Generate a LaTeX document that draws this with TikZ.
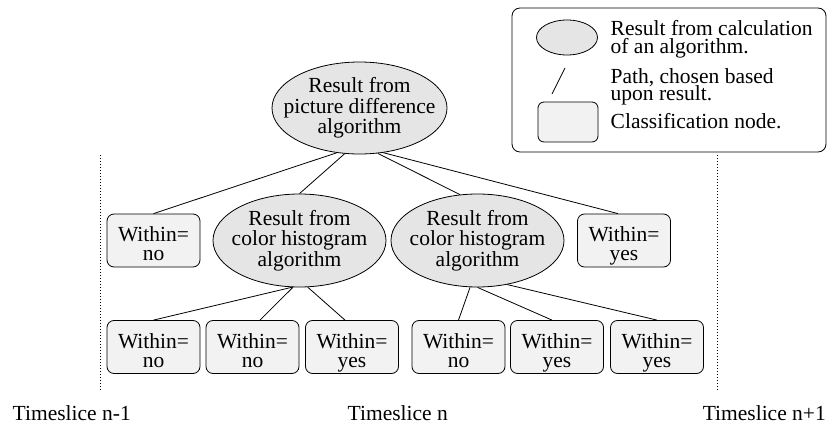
\documentclass[tikz,border=0pt]{standalone}
\usepackage{fontspec}
\setmainfont{Liberation Serif}
\usetikzlibrary{shapes.geometric}
\definecolor{ellgray}{gray}{0.9}
\definecolor{boxgray}{gray}{0.95}
\begin{document}
\begin{tikzpicture}[x=1pt,y=-1pt,
  algo/.style={ellipse, draw, fill=ellgray, minimum width=173pt, minimum height=93pt, inner sep=0pt, line width=0.8pt},
  cls/.style={rectangle, rounded corners=7pt, draw, fill=boxgray, minimum width=93pt, minimum height=53pt, inner sep=0pt, line width=0.8pt},
  elbl/.style={align=center, inner sep=0pt, font=\fontsize{21.5}{20.5}\selectfont},
  blbl/.style={align=center, inner sep=0pt, font=\fontsize{21.5}{19}\selectfont},
  txt/.style={inner sep=0pt, font=\fontsize{21.5}{20.5}\selectfont},
  conn/.style={line width=0.8pt},
  dotline/.style={line width=0.8pt, dash pattern=on 0.8pt off 2.2pt}]
\useasboundingbox (0,0) rectangle (828,423);

% legend
\node[draw, rounded corners=8pt, minimum width=314pt, minimum height=144pt, inner sep=0pt, line width=0.8pt] (legend) at (669,80) {};
\node[ellipse, draw, fill=ellgray, minimum width=61pt, minimum height=35pt, inner sep=0pt, line width=0.8pt] (lell) at (567,37.5) {};
\coordinate (lpa) at (565,68);
\coordinate (lpb) at (552,94);
\draw[conn] (lpa) -- (lpb);
\node[rectangle, rounded corners=6pt, draw, fill=boxgray, minimum width=60pt, minimum height=40pt, inner sep=0pt, line width=0.8pt] (lbox) at (568,122) {};
\node[txt, anchor=base west] (lt1) at (610.5,35) {Result from calculation};
\node[txt, anchor=base west] (lt2) at (610.5,53) {of an algorithm.};
\node[txt, anchor=base west] (lt3) at (610.5,83) {Path, chosen based};
\node[txt, anchor=base west] (lt4) at (610.5,100) {upon result.};
\node[txt, anchor=base west] (lt5) at (610.5,128) {Classification node.};

% dotted timeslice borders
\coordinate (dla) at (100.5,155);
\coordinate (dlb) at (100.5,391);
\coordinate (dra) at (717,155);
\coordinate (drb) at (717,391);
\draw[dotline] (dla) -- (dlb);
\draw[dotline] (dra) -- (drb);

% tree nodes
\node[algo, minimum width=175pt, minimum height=92pt] (m) at (359.5,108) {};
\node[algo] (e2) at (299.5,240.5) {};
\node[algo] (e3) at (477.5,240.5) {};
\node[cls] (b1) at (153.5,240.5) {};
\node[cls] (b2) at (624,240.5) {};
\node[cls] (c1) at (153.5,347) {};
\node[cls] (c2) at (252.5,347) {};
\node[cls] (c3) at (352,347) {};
\node[cls] (c4) at (458.5,347) {};
\node[cls] (c5) at (557,347) {};
\node[cls] (c6) at (657,347) {};

% edges
\draw[conn] (m.243) -- (b1.north);
\draw[conn] (m.252) -- (e2.north);
\draw[conn] (m.292) -- (e3.111);
\draw[conn] (m.298) -- ([xshift=-6pt]b2.north);
\draw[conn] (e2.261) -- (c1.north);
\draw[conn] (e2.262) -- ([xshift=7.5pt]c2.north);
\draw[conn] (e2.280) -- ([xshift=-7pt]c3.north);
\draw[conn] (e3.261) -- (c4.north);
\draw[conn] (e3.270) -- ([xshift=-5pt]c5.north);
\draw[conn] (e3.304) -- (c6.north);

% labels
\node[elbl] (mt) at (m.center) {Result from\\picture difference\\algorithm};
\node[elbl] (e2t) at (e2.center) {Result from\\color histogram\\algorithm};
\node[elbl] (e3t) at (e3.center) {Result from\\color histogram\\algorithm};
\node[blbl] (b1t) at ([yshift=-5.5pt]b1.center) {Within=\\no\vphantom{y}};
\node[blbl] (b2t) at ([yshift=-5.5pt]b2.center) {Within=\\yes};
\node[blbl] (c1t) at ([yshift=-5.5pt]c1.center) {Within=\\no\vphantom{y}};
\node[blbl] (c2t) at ([yshift=-5.5pt]c2.center) {Within=\\no\vphantom{y}};
\node[blbl] (c3t) at ([yshift=-5.5pt]c3.center) {Within=\\yes};
\node[blbl] (c4t) at ([yshift=-5.5pt]c4.center) {Within=\\no\vphantom{y}};
\node[blbl] (c5t) at ([yshift=-5.5pt]c5.center) {Within=\\yes};
\node[blbl] (c6t) at ([yshift=-5.5pt]c6.center) {Within=\\yes};

% timeslice labels
\node[txt, anchor=base west] (ts1) at (12.5,420) {Timeslice n-1};
\node[txt, anchor=base west] (ts2) at (347.5,420) {Timeslice n};
\node[txt, anchor=base east] (ts3) at (826,420) {Timeslice n+1};
\end{tikzpicture}
\end{document}
